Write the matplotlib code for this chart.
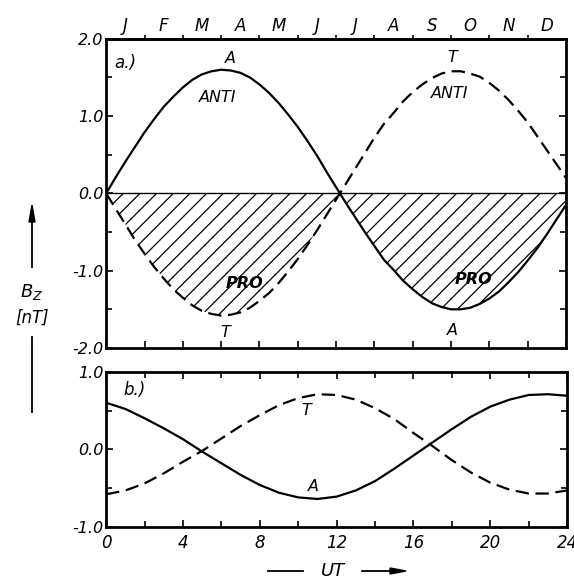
import numpy as np
import matplotlib.pyplot as plt
from matplotlib.lines import Line2D

plt.rcParams['font.family'] = 'DejaVu Sans'
plt.rcParams['font.style'] = 'italic'
plt.rcParams['hatch.linewidth'] = 0.9

# UT hours (panel a.)
ut = [0, 0.5, 1, 1.5, 2, 2.5, 3, 3.5, 4, 4.5, 5, 5.5, 6, 6.5, 7, 7.5, 8, 8.5,
      9, 9.5, 10, 10.5, 11, 11.5, 12, 12.2, 12.5, 13, 13.5, 14, 14.5, 15, 15.5,
      16, 16.5, 17, 17.5, 18, 18.5, 19, 19.5, 20, 20.5, 21, 21.5, 22, 22.5,
      23, 23.5, 24]

# panel a.) : A (solid) and T (dashed)
bz_a = [0, 0.21, 0.41, 0.60, 0.79, 0.96, 1.12, 1.25, 1.37, 1.47, 1.54, 1.58,
        1.60, 1.59, 1.56, 1.50, 1.41, 1.30, 1.17, 1.02, 0.86, 0.68, 0.49, 0.28,
        0.08, 0.0, -0.12, -0.31, -0.50, -0.68, -0.86, -0.99, -1.13, -1.24,
        -1.34, -1.42, -1.47, -1.50, -1.50, -1.48, -1.43, -1.36, -1.27, -1.15,
        -1.02, -0.87, -0.71, -0.53, -0.34, -0.15]
bz_t = [0, -0.20, -0.40, -0.60, -0.78, -0.95, -1.10, -1.24, -1.35, -1.45,
        -1.52, -1.56, -1.58, -1.57, -1.54, -1.48, -1.39, -1.29, -1.16, -1.01,
        -0.85, -0.67, -0.48, -0.28, -0.08, 0.0, 0.12, 0.32, 0.52, 0.72, 0.90,
        1.04, 1.19, 1.31, 1.41, 1.49, 1.55, 1.58, 1.58, 1.55, 1.51, 1.43, 1.33,
        1.21, 1.07, 0.92, 0.74, 0.56, 0.38, 0.20]

# panel b.)
ut_b = [0, 1, 2, 3, 4, 5, 6, 7, 8, 9, 10, 11, 12,
        13, 14, 15, 16, 17, 18, 19, 20, 21, 22, 23, 24]
b_a = [0.60, 0.52, 0.40, 0.27, 0.13, -0.03, -0.18, -0.33, -0.46, -0.56, -0.62, -0.64, -0.61,
       -0.53, -0.41, -0.25, -0.08, 0.09, 0.26, 0.42, 0.55, 0.64, 0.70, 0.71, 0.69]
b_t = [-0.58, -0.53, -0.44, -0.31, -0.16, -0.02, 0.14, 0.30, 0.44, 0.57, 0.66, 0.71, 0.70,
       0.64, 0.53, 0.39, 0.21, 0.04, -0.14, -0.30, -0.43, -0.52, -0.57, -0.57, -0.53]

months = ['J', 'F', 'M', 'A', 'M', 'J', 'J', 'A', 'S', 'O', 'N', 'D']

fig = plt.figure(figsize=(5.74, 5.79), dpi=100)
ax1 = fig.add_axes([0.185, 0.399, 0.801, 0.534])
ax2 = fig.add_axes([0.185, 0.090, 0.803, 0.268])

lw = 1.6
dash = (0, (6, 3))

# top panel
neg = np.minimum(bz_a, bz_t)
ax1.fill_between(ut, 0, neg, where=np.array(neg) <= 0, facecolor='none',
                 edgecolor='black', hatch='//', linewidth=0)
ax1.axhline(0, color='black', lw=1.0)
ax1.plot(ut, bz_a, color='black', lw=lw)
ax1.plot(ut, bz_t, color='black', lw=lw, linestyle=dash)
ax1.set_xlim(0, 24)
ax1.set_ylim(-2, 2)
ax1.set_yticks([-2, -1, 0, 1, 2])
ax1.set_yticklabels(['-2.0', '-1.0', '0.0', '1.0', '2.0'])
ax1.set_yticks(np.arange(-2, 2.01, 0.5), minor=True)
ax1.set_xticks(np.arange(0, 25, 2))
ax1.set_xticklabels([])
ax1.tick_params(which='both', direction='in', left=True, right=True,
                bottom=True, top=False, labelsize=11.5, width=1.2, pad=2)
ax1.tick_params(which='major', length=5)
ax1.tick_params(which='minor', length=4)

sec = ax1.secondary_xaxis('top')
sec.set_xticks(np.arange(1, 24, 2))
sec.set_xticklabels(months)
sec.set_xticks(np.arange(2, 24, 2), minor=True)
sec.tick_params(which='major', length=0, labelsize=12, pad=3)
sec.tick_params(which='minor', length=3, direction='out', width=1.2)
sec.spines['top'].set_linewidth(2)

txt = dict(fontsize=11.5, ha='center', va='center')
ax1.text(0.4, 1.69, 'a.)', fontsize=12, ha='left', va='center')
ax1.text(6.47, 1.74, 'A', **txt)
ax1.text(5.84, 1.24, 'ANTI', **txt)
ax1.text(18.05, 1.76, 'T', **txt)
ax1.text(17.95, 1.29, 'ANTI', **txt)
ax1.text(7.2, -1.16, 'PRO', fontweight='bold', **txt)
ax1.text(6.2, -1.8, 'T', **txt)
ax1.text(19.2, -1.12, 'PRO', fontweight='bold', **txt)
ax1.text(18.05, -1.78, 'A', **txt)

# bottom panel
ax2.plot(ut_b, b_a, color='black', lw=lw)
ax2.plot(ut_b, b_t, color='black', lw=lw, linestyle=dash)
ax2.set_xlim(0, 24)
ax2.set_ylim(-1, 1)
ax2.set_yticks([-1, 0, 1])
ax2.set_yticklabels(['-1.0', '0.0', '1.0'])
ax2.set_yticks(np.arange(-1, 1.01, 0.5), minor=True)
ax2.set_xticks(np.arange(0, 25, 4))
ax2.set_xticks(np.arange(0, 25, 2), minor=True)
ax2.tick_params(which='both', direction='in', left=True, right=True,
                bottom=True, top=True, labelsize=11.5, width=1.2, pad=2)
ax2.tick_params(which='major', length=5)
ax2.tick_params(which='minor', length=4)
ax2.tick_params(axis='x', labelsize=12, pad=5)
ax2.text(0.9, 0.77, 'b.)', fontsize=12, ha='left', va='center')
ax2.text(10.4, 0.5, 'T', **txt)
ax2.text(10.8, -0.48, 'A', **txt)

for ax in (ax1, ax2):
    for s in ax.spines.values():
        s.set_linewidth(2)

# y label with arrows
fig.text(32 / 574, 1 - 292 / 579, r'$B_Z$', fontsize=13, ha='center', va='center')
fig.text(32 / 574, 1 - 318 / 579, '[nT]', fontsize=12, ha='center', va='center')
fig.add_artist(Line2D([32 / 574, 32 / 574], [1 - 267 / 579, 1 - 212 / 579],
                      color='black', lw=1.3))
fig.patches.append(plt.Polygon([[29 / 574, 1 - 222 / 579], [35 / 574, 1 - 222 / 579],
                                [32 / 574, 1 - 205 / 579]], closed=True,
                               color='black', transform=fig.transFigure))
fig.add_artist(Line2D([32 / 574, 32 / 574], [1 - 337 / 579, 1 - 412 / 579],
                      color='black', lw=1.3))

# x label with arrow
fig.text(333 / 574, 1 - 571 / 579, 'UT', fontsize=13, ha='center', va='center')
fig.add_artist(Line2D([268 / 574, 303 / 574], [1 - 571 / 579] * 2, color='black', lw=1.3))
fig.add_artist(Line2D([362 / 574, 395 / 574], [1 - 571 / 579] * 2, color='black', lw=1.3))
fig.patches.append(plt.Polygon([[390 / 574, 1 - 568 / 579], [390 / 574, 1 - 574 / 579],
                                [406 / 574, 1 - 571 / 579]], closed=True,
                               color='black', transform=fig.transFigure))

fig.savefig('out.png', dpi=100)
